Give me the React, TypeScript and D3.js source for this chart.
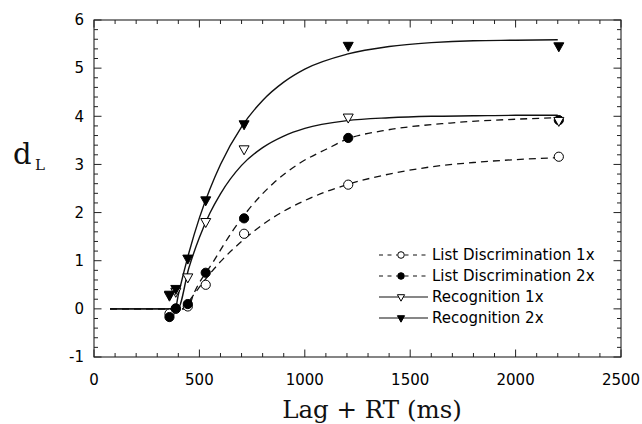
import React from "react";
import * as d3 from "d3";

// ---- data ----
const xTicks = [0, 500, 1000, 1500, 2000, 2500];
const yTicks = [-1, 0, 1, 2, 3, 4, 5, 6];

const pointX = [358, 388, 445, 530, 712, 1206, 2205];
const listDisc1x = [-0.1, 0.0, 0.05, 0.5, 1.56, 2.58, 3.16];
const listDisc2x = [-0.17, 0.01, 0.1, 0.75, 1.88, 3.55, 3.92];
const recog1x = [0.28, 0.36, 0.66, 1.81, 3.32, 3.98, 3.91];
const recog2x = [0.3, 0.42, 1.05, 2.26, 3.84, 5.47, 5.46];

// fitted curves
const recog2xCurveX = [76, 385, 400, 450, 500, 550, 600, 700, 800, 900, 1000, 1200, 1400, 1600, 1800, 2000, 2200];
const recog2xCurveY = [0, 0, 0.29, 1.16, 1.89, 2.49, 3.0, 3.78, 4.33, 4.71, 4.98, 5.29, 5.45, 5.53, 5.57, 5.58, 5.59];
const recog1xCurveX = [76, 397, 450, 500, 550, 600, 700, 800, 900, 1000, 1200, 1400, 1600, 1800, 2000, 2200];
const recog1xCurveY = [0, 0, 0.85, 1.48, 1.99, 2.39, 2.98, 3.35, 3.59, 3.75, 3.91, 3.97, 4.0, 4.01, 4.02, 4.02];
const list2xCurveX = [76, 445, 471, 566, 661, 795, 851, 977, 1104, 1203, 1372, 1689, 2005, 2200];
const list2xCurveY = [0, 0, 0.29, 0.98, 1.64, 2.37, 2.61, 3.03, 3.32, 3.53, 3.7, 3.86, 3.94, 3.97];
const list1xCurveX = [76, 428, 450, 500, 550, 600, 700, 800, 900, 1000, 1200, 1400, 1600, 1800, 2000, 2200];
const list1xCurveY = [0, 0, 0.15, 0.45, 0.73, 0.98, 1.4, 1.75, 2.03, 2.25, 2.58, 2.8, 2.95, 3.04, 3.1, 3.14];

const legendLabels = ["List Discrimination 1x", "List Discrimination 2x", "Recognition 1x", "Recognition 2x"];

const W = 642;
const H = 424;
const L = 94, R = 621, T = 20, B = 357;

const x = d3.scaleLinear().domain([0, 2500]).range([L, R]);
const y = d3.scaleLinear().domain([-1, 6]).range([B, T]);

const line = d3
  .line<[number, number]>()
  .x((d) => x(d[0]))
  .y((d) => y(d[1]))
  .curve(d3.curveMonotoneX);

const zip = (a: number[], b: number[]) => a.map((v, i) => [v, b[i]] as [number, number]);

const SANS = "'DejaVu Sans', sans-serif";
const SERIF = "'DejaVu Serif', serif";

type Kind = "openCircle" | "filledCircle" | "openTri" | "filledTri";

function Marker({ cx, cy, kind, s = 1 }: { cx: number; cy: number; kind: Kind; s?: number }) {
  if (kind === "openCircle" || kind === "filledCircle") {
    return (
      <circle
        cx={cx}
        cy={cy}
        r={4.6 * s}
        fill={kind === "filledCircle" ? "#000" : "#fff"}
        stroke="#000"
        strokeWidth={1}
      />
    );
  }
  const p = `M${cx - 5 * s},${cy - 3.2 * s} L${cx + 5 * s},${cy - 3.2 * s} L${cx},${cy + 5.8 * s} Z`;
  return <path d={p} fill={kind === "filledTri" ? "#000" : "#fff"} stroke="#000" strokeWidth={1} strokeLinejoin="miter" />;
}

export default function App() {
  const xMinor = d3.range(0, 2501, 100);
  const yMinor = d3.range(-1, 6.001, 0.2).map((v) => Math.round(v * 10) / 10);
  const isMajorY = (v: number) => Math.abs(v - Math.round(v)) < 1e-6;

  const series: { xs: number[]; ys: number[]; kind: Kind }[] = [
    { xs: pointX, ys: listDisc1x, kind: "openCircle" },
    { xs: pointX, ys: listDisc2x, kind: "filledCircle" },
    { xs: pointX, ys: recog1x, kind: "openTri" },
    { xs: pointX, ys: recog2x, kind: "filledTri" },
  ];

  const legendKinds: Kind[] = ["openCircle", "filledCircle", "openTri", "filledTri"];
  const legendDashed = [true, true, false, false];
  const legendY0 = 255;
  const legendDY = 21;

  return (
    <svg width={W} height={H} style={{ position: "absolute", left: 0, top: 0, background: "#fff" }}>
      {/* frame */}
      <rect x={L} y={T} width={R - L} height={B - T} fill="none" stroke="#222" strokeWidth={1.1} />

      {/* x ticks bottom & top */}
      {xMinor.map((v) => {
        const major = v % 500 === 0;
        const len = major ? 7.5 : 4;
        return (
          <g key={"xt" + v} stroke="#222" strokeWidth={1}>
            <line x1={x(v)} x2={x(v)} y1={B} y2={B - len} />
            <line x1={x(v)} x2={x(v)} y1={T} y2={T + len} />
          </g>
        );
      })}
      {/* y ticks left & right */}
      {yMinor.map((v) => {
        const len = isMajorY(v) ? 7.5 : 4;
        return (
          <g key={"yt" + v} stroke="#222" strokeWidth={1}>
            <line x1={L} x2={L + len} y1={y(v)} y2={y(v)} />
            <line x1={R} x2={R - len} y1={y(v)} y2={y(v)} />
          </g>
        );
      })}

      {/* tick labels */}
      {xTicks.map((v) => (
        <text key={"xl" + v} x={x(v)} y={385} textAnchor="middle" fontFamily={SANS} fontSize={15} fill="#000">
          {v}
        </text>
      ))}
      {yTicks.map((v) => (
        <text key={"yl" + v} x={84} y={y(v) + 5.3} textAnchor="end" fontFamily={SANS} fontSize={15} fill="#000">
          {v}
        </text>
      ))}

      {/* axis titles */}
      <text x={372} y={418} textAnchor="middle" fontFamily={SERIF} fontSize={24.5} fill="#111">
        Lag + RT (ms)
      </text>
      <text x={13} y={164} fontFamily={SERIF} fontSize={29} fill="#111">
        d
      </text>
      <text x={35} y={170} fontFamily={SERIF} fontSize={15} fill="#111">
        L
      </text>

      {/* curves */}
      <path d={line(zip(list1xCurveX, list1xCurveY)) || ""} fill="none" stroke="#111" strokeWidth={1.3} strokeDasharray="7,5" />
      <path d={line(zip(list2xCurveX, list2xCurveY)) || ""} fill="none" stroke="#111" strokeWidth={1.3} strokeDasharray="7,5" />
      <path d={line(zip(recog1xCurveX, recog1xCurveY)) || ""} fill="none" stroke="#111" strokeWidth={1.4} />
      <path d={line(zip(recog2xCurveX, recog2xCurveY)) || ""} fill="none" stroke="#111" strokeWidth={1.4} />

      {/* markers */}
      {series.map((s, si) =>
        s.xs.map((xv, i) => <Marker key={`m${si}-${i}`} cx={x(xv)} cy={y(s.ys[i])} kind={s.kind} />)
      )}

      {/* legend */}
      {legendLabels.map((lab, i) => {
        const ly = legendY0 + i * legendDY;
        return (
          <g key={"lg" + i}>
            <line
              x1={379}
              x2={428}
              y1={ly}
              y2={ly}
              stroke="#111"
              strokeWidth={1.1}
              strokeDasharray={legendDashed[i] ? "4,4.5" : undefined}
            />
            {legendDashed[i] && <rect x={397} y={ly - 4} width={8} height={8} fill="#fff" />}
            <Marker cx={401} cy={ly} kind={legendKinds[i]} s={0.72} />
            <text x={432} y={ly + 5.2} fontFamily={SANS} fontSize={15} fill="#000">
              {lab}
            </text>
          </g>
        );
      })}
    </svg>
  );
}
